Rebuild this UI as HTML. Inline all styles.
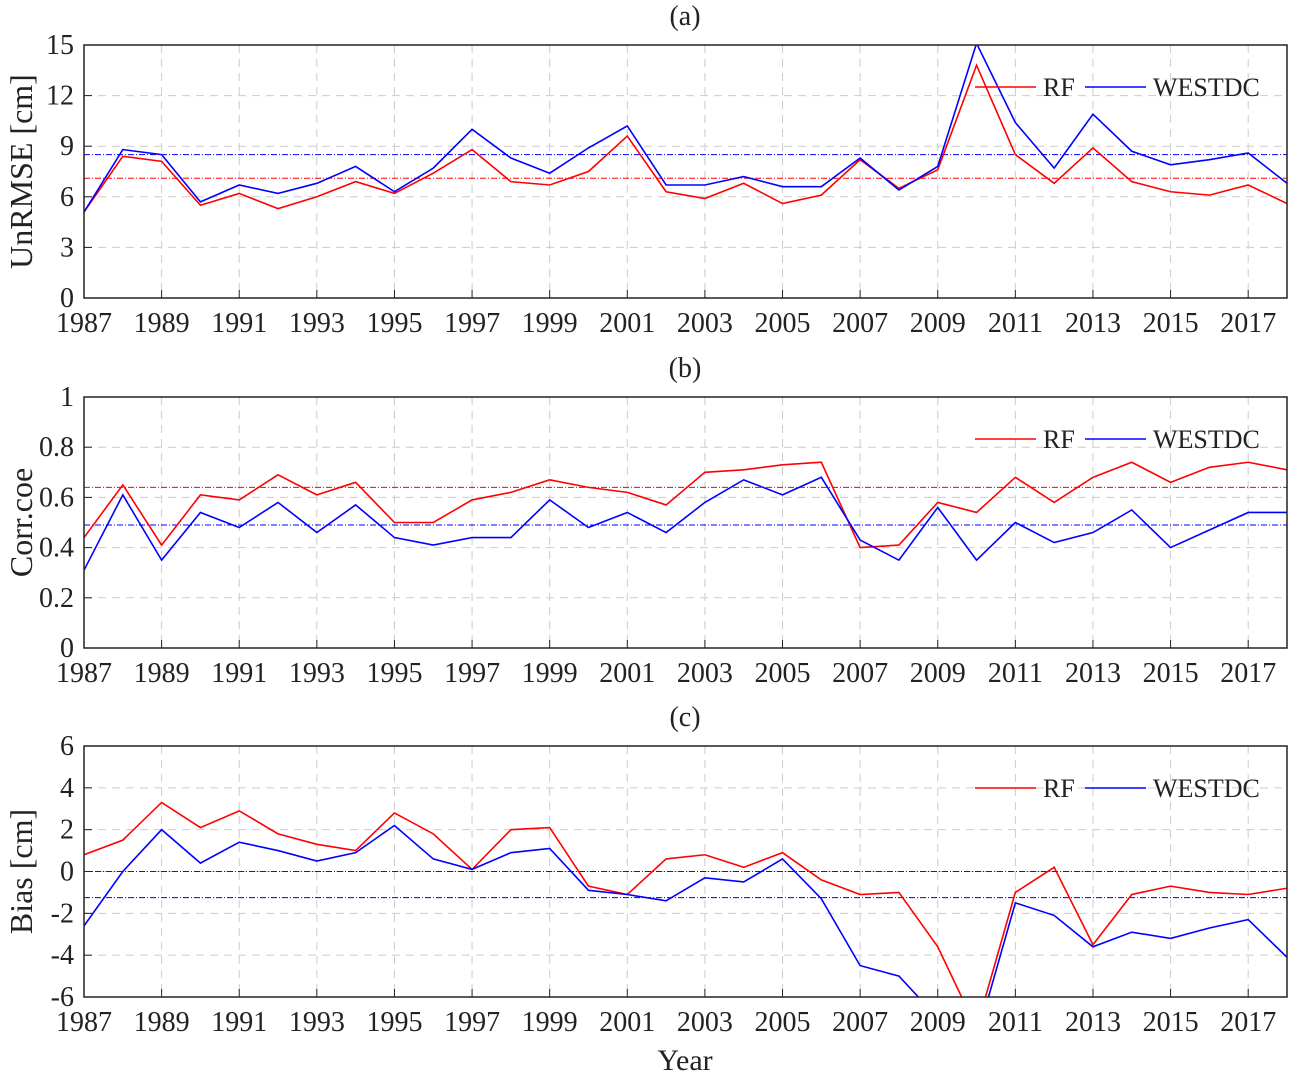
<!DOCTYPE html>
<html><head><meta charset="utf-8"><style>
body{margin:0;background:#fff}
svg text{font-family:"Liberation Serif",serif;fill:#222}
</style></head><body>
<svg id="c" width="1289" height="1073" xmlns="http://www.w3.org/2000/svg"></svg>
<script>
const years=[];for(let y=1987;y<=2018;y++)years.push(y);
const xTickLabels=[1987,1989,1991,1993,1995,1997,1999,2001,2003,2005,2007,2009,2011,2013,2015,2017];
const rmseRF=[5.1,8.4,8.1,5.5,6.2,5.3,6.0,6.9,6.2,7.4,8.8,6.9,6.7,7.5,9.6,6.3,5.9,6.8,5.6,6.1,8.2,6.5,7.6,13.8,8.5,6.8,8.9,6.9,6.3,6.1,6.7,5.6];
const rmseWD=[5.1,8.8,8.5,5.7,6.7,6.2,6.8,7.8,6.3,7.7,10.0,8.3,7.4,8.9,10.2,6.7,6.7,7.2,6.6,6.6,8.3,6.4,7.8,15.1,10.4,7.7,10.9,8.7,7.9,8.2,8.6,6.8];
const corrRF=[0.44,0.65,0.41,0.61,0.59,0.69,0.61,0.66,0.50,0.50,0.59,0.62,0.67,0.64,0.62,0.57,0.70,0.71,0.73,0.74,0.40,0.41,0.58,0.54,0.68,0.58,0.68,0.74,0.66,0.72,0.74,0.71];
const corrWD=[0.31,0.61,0.35,0.54,0.48,0.58,0.46,0.57,0.44,0.41,0.44,0.44,0.59,0.48,0.54,0.46,0.58,0.67,0.61,0.68,0.43,0.35,0.56,0.35,0.50,0.42,0.46,0.55,0.40,0.47,0.54,0.54];
const biasRF=[0.8,1.5,3.3,2.1,2.9,1.8,1.3,1.0,2.8,1.8,0.1,2.0,2.1,-0.7,-1.1,0.6,0.8,0.2,0.9,-0.4,-1.1,-1.0,-3.6,-7.5,-1.0,0.2,-3.5,-1.1,-0.7,-1.0,-1.1,-0.8];
const biasWD=[-2.6,0.0,2.0,0.4,1.4,1.0,0.5,0.9,2.2,0.6,0.1,0.9,1.1,-0.9,-1.1,-1.4,-0.3,-0.5,0.6,-1.3,-4.5,-5.0,-7,-8,-1.5,-2.1,-3.6,-2.9,-3.2,-2.7,-2.3,-4.1];
const meansA=[7.1,8.5],meansB=[0.64,0.49],meansC=[0,-1.25];
const ticksA=[0,3,6,9,12,15],ticksB=[0,0.2,0.4,0.6,0.8,1],ticksC=[-6,-4,-2,0,2,4,6];
const svg=document.getElementById('c');const NS='http://www.w3.org/2000/svg';
function el(t,a,p){const e=document.createElementNS(NS,t);for(const k in a)e.setAttribute(k,a[k]);(p||svg).appendChild(e);return e;}
const X0=84,X1=1287;const xs=y=>X0+(y-1987)*(X1-X0)/31;
const panels=[
 {id:'a',top:45,bot:298,min:0,max:15,ticks:ticksA,rf:rmseRF,wd:rmseWD,means:meansA,lab:'UnRMSE [cm]',title:'(a)',rfMeanColor:'red'},
 {id:'b',top:397,bot:648,min:0,max:1,ticks:ticksB,rf:corrRF,wd:corrWD,means:meansB,lab:'Corr.coe',title:'(b)',rfMeanColor:'red'},
 {id:'c',top:746,bot:997,min:-6,max:6,ticks:ticksC,rf:biasRF,wd:biasWD,means:meansC,lab:'Bias [cm]',title:'(c)',rfMeanColor:'#800'}];
panels.forEach(p=>{
 const ys=v=>p.bot-(v-p.min)/(p.max-p.min)*(p.bot-p.top);
 const g=el('g',{});
 const cp=el('clipPath',{id:'cl'+p.id},g);el('rect',{x:X0,y:p.top,width:X1-X0,height:p.bot-p.top},cp);
 p.ticks.forEach(t=>{const y=ys(t);
  if(t!==p.min&&t!==p.max)el('line',{x1:X0,x2:X1,y1:y,y2:y,stroke:'#ccc','stroke-dasharray':'8 6'},g);
  el('line',{x1:X0,x2:X0+8,y1:y,y2:y,stroke:'#222'},g);
  const tx=el('text',{x:X0-10,y:y+9,'text-anchor':'end','font-size':28},g);tx.textContent=t;});
 xTickLabels.forEach(yr=>{const x=xs(yr);
  if(yr!==1987)el('line',{x1:x,x2:x,y1:p.top,y2:p.bot,stroke:'#ccc','stroke-dasharray':'8 6'},g);
  el('line',{x1:x,x2:x,y1:p.bot,y2:p.bot-8,stroke:'#222'},g);
  const tx=el('text',{x:x,y:p.bot+34,'text-anchor':'middle','font-size':28},g);tx.textContent=yr;});
 const cg=el('g',{'clip-path':'url(#cl'+p.id+')'},g);
 [[p.rfMeanColor,0],['blue',1]].forEach(([c,i])=>{const y=ys(p.means[i]);
  const m=el('line',{x1:X0,x2:X1,y1:y,y2:y,stroke:c,'stroke-dasharray':'6 2 1 2'},cg);
  });
 [[p.rf,'red','rf'],[p.wd,'blue','westdc']].forEach(([d,c,n])=>{
  const pl=el('polyline',{points:d.map((v,i)=>xs(years[i])+','+ys(v)).join(' '),fill:'none',stroke:c,'stroke-width':1.6},cg);
  });
 el('rect',{x:X0,y:p.top,width:X1-X0,height:p.bot-p.top,fill:'none',stroke:'#222','stroke-width':1.5},g);
 const lg=el('g',{},g);
 const ly=p.top+42;
 el('line',{x1:975,x2:1036,y1:ly,y2:ly,stroke:'red','stroke-width':1.6},lg);
 let t=el('text',{x:1043,y:ly+9,'font-size':26},lg);t.textContent='RF';
 el('line',{x1:1085,x2:1146,y1:ly,y2:ly,stroke:'blue','stroke-width':1.6},lg);
 t=el('text',{x:1153,y:ly+9,'font-size':26},lg);t.textContent='WESTDC';
 t=el('text',{x:685,y:p.top-20,'text-anchor':'middle','font-size':28},g);t.textContent=p.title;
 
 const cy=(p.top+p.bot)/2;
 t=el('text',{x:0,y:0,'text-anchor':'middle','font-size':32,transform:'translate(32,'+cy+') rotate(-90)'},g);t.textContent=p.lab;
 
});
const xt=el('text',{x:685,y:1070,'text-anchor':'middle','font-size':30});xt.textContent='Year';


</script>
</body></html>
